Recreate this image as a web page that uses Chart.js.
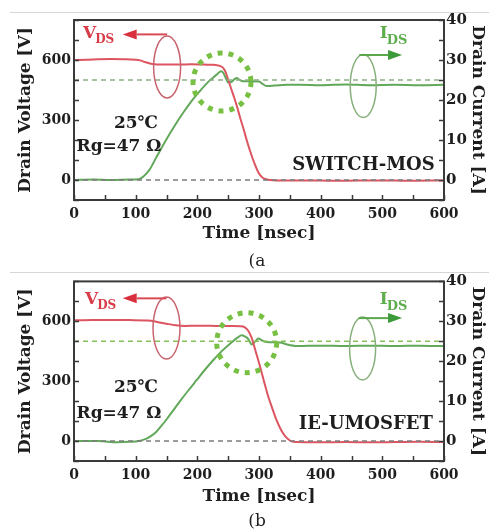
<!DOCTYPE html>
<html>
<head>
<meta charset="utf-8">
<script src="https://cdn.jsdelivr.net/npm/chart.js@4.4.1/dist/chart.umd.min.js"></script>
<style>
  html, body { margin: 0; padding: 0; background: #fff; }
  #wrapA { position: absolute; left: 0; top: 0; width: 489px; height: 270px; }
  #wrapB { position: absolute; left: 0; top: 270px; width: 489px; height: 260px; }
  canvas { display: block; }
</style>
</head>
<body>
<div id="wrapA"><canvas id="chartA" width="489" height="270"></canvas></div>
<div id="wrapB"><canvas id="chartB" width="489" height="260"></canvas></div>
<script>
// ---------- measured waveforms: time [ns] vs. drain voltage [V] / drain current [A] ----------

// (a) SWITCH-MOS
const tVdsA = [0, 20, 40, 60, 80, 100, 107, 115, 125, 135, 150, 170, 190, 210, 225, 232, 237, 241, 245, 250, 255, 260, 265, 270, 275, 280, 285, 290, 295, 300, 305, 310, 318, 340, 380, 420, 460, 500, 540, 580, 600];
const vdsA  = [600, 601, 604, 605, 604, 601, 598, 590, 581, 577, 578, 577, 579, 577, 576, 574, 570, 563, 545, 502, 455, 410, 360, 305, 255, 200, 150, 105, 65, 32, 14, 5, 0, -3, -2, -4, -3, -2, -4, -3, -3];
const tIdsA = [0, 30, 60, 90, 105, 112, 118, 123, 134, 150, 163, 177, 190, 204, 218, 231, 236, 239, 242, 246, 250, 255, 260, 264, 268, 274, 285, 300, 306, 312, 325, 345, 366, 400, 440, 480, 520, 560, 600];
const idsA  = [0, 0.1, 0, 0.1, 0.2, 0.8, 1.7, 2.7, 5.8, 10.2, 13.5, 16.8, 19.6, 22.2, 24.6, 26.3, 27.0, 27.2, 26.8, 25.5, 24.4, 24.5, 25.2, 25.5, 25.1, 24.7, 24.7, 24.6, 24.0, 23.5, 23.6, 23.8, 23.8, 23.7, 23.9, 23.7, 23.8, 23.7, 23.8];

// (b) IE-UMOSFET
const tVdsB = [0, 30, 60, 90, 120, 135, 150, 165, 180, 200, 230, 255, 270, 277, 282, 288, 295, 302, 308, 315, 322, 328, 335, 342, 348, 353, 360, 400, 440, 480, 520, 560, 600];
const vdsB  = [605, 606, 607, 606, 604, 597, 588, 580, 577, 578, 577, 576, 575, 570, 555, 518, 445, 370, 300, 223, 160, 108, 60, 26, 8, -2, -5, -6, -5, -6, -5, -4, -5];
const tIdsB = [0, 40, 70, 90, 105, 112, 120, 130, 140, 150, 160, 172, 185, 199, 212, 226, 240, 253, 265, 272, 277, 283, 288, 293, 299, 305, 312, 334, 345, 362, 400, 440, 480, 520, 560, 600];
const idsB  = [0, 0, -0.3, -0.2, 0, 0.3, 0.8, 1.8, 3.5, 5.4, 7.5, 10.0, 12.6, 15.3, 17.8, 20.3, 22.6, 24.4, 25.9, 26.5, 26.2, 25.5, 24.2, 24.8, 25.7, 25.2, 24.8, 24.7, 24.2, 23.8, 23.9, 23.8, 23.9, 23.8, 23.9, 23.8];

// dashed reference levels on the current axis [A]
const refCurrent = [25, 0];

// axis ranges and tick steps
const timeRange = [0, 600], timeStep = 50, timeLabelStep = 100;
const voltRange = [-100, 800], voltStep = 100, voltLabelStep = 300;
const currRange = [-5, 40], currStep = 5, currLabelStep = 10;

// ---------- styling ----------
const SERIF = '"DejaVu Serif", "Liberation Serif", serif';
const RED = '#dc5560';
const GREEN = '#62a85a';
const INK = '#1e1e1e';

// annotation anchors in data units (time, voltage)
const notesA = {
  label: '(a', device: 'SWITCH-MOS', devicePos: [585, 72],
  vText: [14.6, 710], iText: [496, 710],
  vLoop: [151, 565], iLoop: [469, 470],
  vArrow: [728, 79], iArrow: [625, 532],
  ring: [240, 490], ringR: 29,
  temp: [100.5, 280], gate: [73, 165],
  sepY: 12, labelY: 262
};
const notesB = {
  label: '(b', device: 'IE-UMOSFET', devicePos: [582, 86],
  vText: [17.8, 689], iText: [496, 689],
  vLoop: [150, 566], iLoop: [468, 464],
  vArrow: [715, 79], iArrow: [616, 532],
  ring: [280, 493], ringR: 30,
  temp: [100.5, 266], gate: [73, 138],
  sepY: 2, labelY: 252
};

function pts(xs, ys) { return xs.map((x, i) => ({ x: x, y: ys[i] })); }

// frame box + inward tick marks
const framePlugin = {
  id: 'frameTicks',
  afterDatasetsDraw(chart) {
    const { ctx, chartArea: a, scales } = chart;
    ctx.save();
    ctx.strokeStyle = '#3a3a3a';
    ctx.lineWidth = 1.5;
    const L = 5;
    ctx.beginPath();
    scales.x.ticks.forEach(t => {
      const px = Math.round(scales.x.getPixelForValue(t.value)) + 0.5;
      ctx.moveTo(px, a.bottom); ctx.lineTo(px, a.bottom - L);
    });
    scales.y.ticks.forEach(t => {
      const py = Math.round(scales.y.getPixelForValue(t.value)) + 0.5;
      ctx.moveTo(a.left, py); ctx.lineTo(a.left + L, py);
    });
    scales.y1.ticks.forEach(t => {
      const py = Math.round(scales.y1.getPixelForValue(t.value)) + 0.5;
      ctx.moveTo(a.right, py); ctx.lineTo(a.right - L, py);
    });
    ctx.stroke();
    ctx.lineWidth = 2;
    ctx.strokeRect(a.left, a.top, a.right - a.left, a.bottom - a.top);
    ctx.restore();
  }
};

function notesPlugin(n) {
  return {
    id: 'notes',
    afterDraw(chart) {
      const { ctx, scales, chartArea: a, width } = chart;
      const X = t => scales.x.getPixelForValue(t);
      const Y = v => scales.y.getPixelForValue(v);
      ctx.save();

      // thin page separator
      ctx.strokeStyle = '#d6d6d6'; ctx.lineWidth = 1;
      ctx.beginPath(); ctx.moveTo(10, n.sepY + 0.5); ctx.lineTo(width, n.sepY + 0.5); ctx.stroke();

      // loops marking each trace
      ctx.lineWidth = 1.5;
      ctx.strokeStyle = '#c8646f';
      ctx.beginPath(); ctx.ellipse(X(n.vLoop[0]), Y(n.vLoop[1]), 13.5, 31, 0, 0, Math.PI * 2); ctx.stroke();
      ctx.strokeStyle = '#88b07c';
      ctx.beginPath(); ctx.ellipse(X(n.iLoop[0]), Y(n.iLoop[1]), 13, 31.5, 0, 0, Math.PI * 2); ctx.stroke();

      // axis arrows
      function arrow(x0, y, xTip, lineCol, headCol) {
        const dir = xTip < x0 ? 1 : -1;
        const head = 14;
        ctx.strokeStyle = lineCol; ctx.lineWidth = 2;
        ctx.beginPath(); ctx.moveTo(x0, y); ctx.lineTo(xTip + dir * head, y); ctx.stroke();
        ctx.fillStyle = headCol;
        ctx.beginPath();
        ctx.moveTo(xTip, y);
        ctx.lineTo(xTip + dir * head, y - 5);
        ctx.lineTo(xTip + dir * head, y + 5);
        ctx.closePath(); ctx.fill();
      }
      arrow(X(n.vLoop[0]), Y(n.vArrow[0]), X(n.vArrow[1]), '#d94a55', '#d8303f');
      arrow(X(n.iLoop[0]) - 4, Y(n.iArrow[0]), X(n.iArrow[1]), '#5aa84c', '#3d9a3a');

      // subscripted trace names
      function sub(main, s, x, y, col, m, sm, drop) {
        ctx.fillStyle = col; ctx.textBaseline = 'alphabetic'; ctx.textAlign = 'left';
        ctx.font = 'bold ' + m + 'px ' + SERIF;
        ctx.fillText(main, x, y);
        const w = ctx.measureText(main).width;
        ctx.font = 'bold ' + sm + 'px ' + SERIF;
        ctx.fillText(s, x + w - 1, y + drop);
      }
      sub('V', 'DS', X(n.vText[0]), Y(n.vText[1]), '#d83c49', 17, 12, 5);
      sub('I', 'DS', X(n.iText[0]), Y(n.iText[1]), '#5fae4e', 17, 13, 6);

      // dotted ring around the switching peak
      ctx.strokeStyle = '#78c043'; ctx.lineWidth = 5; ctx.setLineDash([5, 6]);
      ctx.beginPath(); ctx.arc(X(n.ring[0]), Y(n.ring[1]), n.ringR, 0, Math.PI * 2); ctx.stroke();
      ctx.setLineDash([]);

      // conditions and device name
      ctx.fillStyle = INK; ctx.textBaseline = 'middle';
      ctx.textAlign = 'center';
      ctx.font = 'bold 17px ' + SERIF;
      ctx.fillText('25\u2103', X(n.temp[0]), Y(n.temp[1]));
      ctx.fillText('Rg=47 \u03A9', X(n.gate[0]), Y(n.gate[1]));
      ctx.textAlign = 'right';
      ctx.font = 'bold 18px ' + SERIF;
      ctx.fillText(n.device, X(n.devicePos[0]), Y(n.devicePos[1]));

      // panel label
      ctx.textAlign = 'center';
      ctx.font = '17px ' + SERIF;
      ctx.fillText(n.label, (a.left + a.right) / 2 - 2, n.labelY);
      ctx.restore();
    }
  };
}

function makeChart(id, tv, v, ti, i, cfg, notes) {
  const tickFont = { family: SERIF, size: 14, weight: 'bold' };
  const titleFont = { family: SERIF, size: 17, weight: 'bold' };
  return new Chart(document.getElementById(id), {
    type: 'line',
    data: {
      datasets: [
        { data: [{ x: timeRange[0], y: refCurrent[0] }, { x: timeRange[1], y: refCurrent[0] }], yAxisID: 'y1',
          borderColor: cfg.refColor, borderDash: [5, 4], borderWidth: 1.4 },
        { data: [{ x: timeRange[0], y: refCurrent[1] }, { x: timeRange[1], y: refCurrent[1] }], yAxisID: 'y1',
          borderColor: '#7c7c7c', borderDash: [5, 4], borderWidth: 1.4 },
        { label: 'VDS', data: pts(tv, v), yAxisID: 'y', borderColor: RED, borderWidth: 2 },
        { label: 'IDS', data: pts(ti, i), yAxisID: 'y1', borderColor: GREEN, borderWidth: 2 }
      ]
    },
    options: {
      responsive: false,
      animation: false,
      events: [],
      layout: { padding: { top: cfg.padTop, left: 0, right: 0, bottom: 0 } },
      elements: { point: { radius: 0 }, line: { tension: 0, cubicInterpolationMode: 'monotone' } },
      plugins: { legend: { display: false }, tooltip: { enabled: false } },
      scales: {
        x: {
          type: 'linear', min: timeRange[0], max: timeRange[1],
          afterFit(s) { s.height = cfg.xAxisH; },
          grid: { display: false, drawTicks: false }, border: { display: false },
          ticks: { stepSize: timeStep, autoSkip: false, maxRotation: 0, padding: 6, color: INK, font: tickFont,
                   callback: val => (val % timeLabelStep === 0 ? val : '') },
          title: { display: true, text: 'Time [nsec]', color: INK, font: titleFont,
                   padding: { top: 0, bottom: cfg.xTitlePad } }
        },
        y: {
          position: 'left', min: voltRange[0], max: voltRange[1],
          afterFit(s) { s.width = 74; },
          grid: { display: false, drawTicks: false }, border: { display: false },
          ticks: { stepSize: voltStep, autoSkip: false, padding: 3, color: INK, font: tickFont,
                   callback: val => (val % voltLabelStep === 0 ? val : '') },
          title: { display: true, text: 'Drain Voltage [V]', color: INK, font: titleFont,
                   padding: { top: 15, bottom: 0 } }
        },
        y1: {
          position: 'right', min: currRange[0], max: currRange[1],
          afterFit(s) { s.width = 45; },
          grid: { display: false, drawTicks: false }, border: { display: false },
          ticks: { stepSize: currStep, autoSkip: false, padding: 2, color: INK,
                   font: { family: SERIF, size: 15, weight: 'bold' },
                   callback: val => (val % currLabelStep === 0 ? val : '') },
          title: { display: true, text: 'Drain Current [A]', color: INK, font: titleFont,
                   padding: { top: 1, bottom: 0 } }
        }
      }
    },
    plugins: [framePlugin, notesPlugin(notes)]
  });
}

makeChart('chartA', tVdsA, vdsA, tIdsA, idsA,
  { padTop: 20, xAxisH: 70, xTitlePad: 26, refColor: '#8fae86' }, notesA);
makeChart('chartB', tVdsB, vdsB, tIdsB, idsB,
  { padTop: 11, xAxisH: 69, xTitlePad: 23, refColor: '#86c05a' }, notesB);
</script>
</body>
</html>
